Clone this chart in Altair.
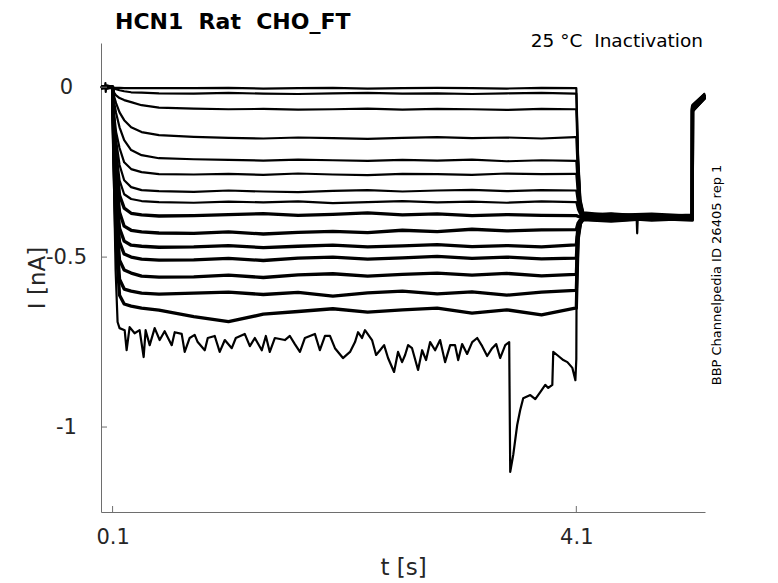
import altair as alt
import pandas as pd

# ---------------- data ----------------
# common time base of the 15 regular sweeps [s]
T_STEP = [0.0, 0.05, 0.1, 0.11, 0.13, 0.16, 0.2, 0.26, 0.35, 0.5,
          0.8, 1.1, 1.4, 1.7, 2.0, 2.3, 2.6, 2.9, 3.2, 3.5, 3.8, 4.09,
          4.1, 4.115, 4.135, 4.16, 4.4, 4.75, 5.1, 5.102, 5.21]

# currents [nA] of the regular sweeps
I1 = [0.002, -0.002, 0.0, -0.001, -0.002, -0.002, -0.003, -0.003, -0.003, -0.003,
      -0.003, -0.002, -0.004, -0.003, -0.002, -0.004, -0.003, -0.002, -0.003, -0.004, -0.002, -0.003,
      -0.003, -0.20, -0.33, -0.368, -0.376, -0.372, -0.378, -0.052, -0.018]
I2 = [-0.001, 0.002, 0.0, -0.003, -0.006, -0.009, -0.012, -0.015, -0.016, -0.018,
      -0.019, -0.017, -0.019, -0.020, -0.018, -0.017, -0.019, -0.018, -0.020, -0.018, -0.017, -0.019,
      -0.019, -0.21, -0.335, -0.372, -0.380, -0.377, -0.381, -0.058, -0.022]
I3 = [0.001, -0.003, 0.0, -0.015, -0.024, -0.032, -0.038, -0.044, -0.053, -0.060,
      -0.063, -0.065, -0.064, -0.066, -0.065, -0.063, -0.066, -0.064, -0.065, -0.067, -0.064, -0.065,
      -0.065, -0.23, -0.34, -0.375, -0.371, -0.379, -0.375, -0.062, -0.025]
I4 = [-0.002, 0.003, 0.0, -0.024, -0.047, -0.074, -0.097, -0.118, -0.132, -0.141,
      -0.146, -0.149, -0.151, -0.148, -0.150, -0.152, -0.149, -0.147, -0.150, -0.148, -0.151, -0.147,
      -0.147, -0.27, -0.35, -0.378, -0.383, -0.376, -0.383, -0.066, -0.028]
I5 = [0.003, -0.001, 0.0, -0.038, -0.076, -0.118, -0.156, -0.185, -0.200, -0.209,
      -0.212, -0.214, -0.216, -0.213, -0.215, -0.217, -0.214, -0.216, -0.213, -0.218, -0.215, -0.217,
      -0.217, -0.30, -0.36, -0.380, -0.374, -0.381, -0.377, -0.055, -0.020]
I6 = [-0.003, 0.001, 0.0, -0.068, -0.132, -0.179, -0.221, -0.241, -0.250, -0.256,
      -0.257, -0.255, -0.258, -0.254, -0.257, -0.259, -0.255, -0.256, -0.258, -0.254, -0.256, -0.255,
      -0.255, -0.32, -0.365, -0.383, -0.385, -0.378, -0.384, -0.060, -0.024]
I7 = [0.002, 0.0, 0.0, -0.082, -0.156, -0.229, -0.274, -0.294, -0.303, -0.306,
      -0.308, -0.304, -0.307, -0.309, -0.305, -0.303, -0.307, -0.304, -0.302, -0.306, -0.303, -0.304,
      -0.304, -0.34, -0.37, -0.381, -0.377, -0.386, -0.379, -0.064, -0.027]
I8 = [0.0, -0.002, 0.0, -0.097, -0.185, -0.274, -0.315, -0.329, -0.335, -0.338,
      -0.340, -0.337, -0.339, -0.336, -0.341, -0.338, -0.335, -0.339, -0.337, -0.340, -0.336, -0.338,
      -0.338, -0.36, -0.375, -0.385, -0.388, -0.380, -0.386, -0.068, -0.030]
I9 = [-0.002, 0.002, 0.0, -0.112, -0.215, -0.318, -0.356, -0.371, -0.376, -0.379,
      -0.378, -0.375, -0.372, -0.377, -0.374, -0.370, -0.376, -0.373, -0.378, -0.375, -0.377, -0.378,
      -0.378, -0.38, -0.382, -0.379, -0.374, -0.383, -0.380, -0.057, -0.021]
I10 = [0.001, -0.001, 0.0, -0.126, -0.259, -0.368, -0.409, -0.421, -0.426, -0.429,
       -0.430, -0.426, -0.432, -0.427, -0.424, -0.428, -0.421, -0.425, -0.418, -0.423, -0.420, -0.419,
       -0.419, -0.40, -0.39, -0.386, -0.390, -0.384, -0.388, -0.062, -0.026]
I11 = [-0.001, 0.003, 0.0, -0.141, -0.303, -0.415, -0.453, -0.465, -0.468, -0.471,
       -0.470, -0.466, -0.472, -0.468, -0.465, -0.470, -0.467, -0.463, -0.469, -0.466, -0.470, -0.464,
       -0.464, -0.41, -0.393, -0.382, -0.379, -0.387, -0.382, -0.066, -0.029]
I12 = [0.002, -0.003, 0.0, -0.156, -0.332, -0.456, -0.491, -0.500, -0.506, -0.509,
       -0.508, -0.504, -0.510, -0.503, -0.500, -0.506, -0.502, -0.498, -0.504, -0.500, -0.505, -0.503,
       -0.503, -0.42, -0.395, -0.388, -0.392, -0.385, -0.389, -0.070, -0.031]
I13 = [-0.003, 0.0, 0.0, -0.171, -0.376, -0.509, -0.538, -0.547, -0.556, -0.559,
       -0.558, -0.553, -0.560, -0.552, -0.549, -0.556, -0.551, -0.547, -0.553, -0.548, -0.555, -0.551,
       -0.551, -0.43, -0.398, -0.384, -0.381, -0.389, -0.384, -0.059, -0.023]
I14 = [0.001, 0.002, 0.0, -0.185, -0.421, -0.565, -0.594, -0.600, -0.606, -0.609,
       -0.606, -0.603, -0.610, -0.604, -0.615, -0.605, -0.600, -0.608, -0.602, -0.612, -0.603, -0.598,
       -0.598, -0.44, -0.40, -0.390, -0.394, -0.386, -0.391, -0.063, -0.027]
I15 = [-0.002, -0.001, 0.0, -0.200, -0.465, -0.612, -0.638, -0.644, -0.650, -0.656,
       -0.675, -0.690, -0.668, -0.660, -0.652, -0.662, -0.655, -0.650, -0.665, -0.655, -0.670, -0.650,
       -0.650, -0.45, -0.402, -0.386, -0.383, -0.391, -0.386, -0.067, -0.030]

# the deepest (noisy) sweep: main readings
T_LOW = [0.0, 0.035, 0.038, 0.041, 0.044, 0.1, 0.109, 0.126, 0.143, 0.160,
         0.204, 0.247, 0.290, 0.333, 0.368, 0.385, 0.463, 0.549, 0.610, 0.636,
         0.696, 0.765, 0.834, 0.895, 0.921, 0.981, 1.068, 1.128, 1.163, 1.240,
         1.327, 1.387, 1.422, 1.500, 1.586, 1.672, 1.759, 1.845, 1.932, 2.018,
         2.087, 2.148, 2.217, 2.277, 2.338, 2.407, 2.476, 2.528, 2.562, 2.623,
         2.683, 2.735, 2.770, 2.839, 2.925, 3.012, 3.081, 3.115, 3.202, 3.288,
         3.374, 3.443, 3.487, 3.521, 3.530, 3.556, 3.590, 3.616, 3.642, 3.703,
         3.789, 3.858, 3.893, 3.901, 3.945, 3.988, 4.023, 4.066, 4.092, 4.1,
         4.104, 4.13, 4.16, 4.4, 4.62, 4.625, 4.63, 4.75, 5.1, 5.102,
         5.21]
I_LOW = [0.002, 0.0, 0.012, -0.014, 0.0, 0.0, -0.229, -0.538, -0.691, -0.709,
         -0.715, -0.706, -0.724, -0.715, -0.794, -0.715, -0.709, -0.718, -0.759, -0.721,
         -0.726, -0.738, -0.750, -0.774, -0.738, -0.732, -0.744, -0.768, -0.738, -0.726,
         -0.738, -0.774, -0.732, -0.738, -0.744, -0.756, -0.738, -0.726, -0.732, -0.768,
         -0.797, -0.779, -0.721, -0.715, -0.744, -0.774, -0.797, -0.838, -0.779, -0.788,
         -0.768, -0.832, -0.774, -0.750, -0.744, -0.759, -0.803, -0.756, -0.750, -0.762,
         -0.768, -0.797, -0.759, -0.750, -1.132, -1.082, -0.994, -0.950, -0.915, -0.906,
         -0.897, -0.885, -0.876, -0.779, -0.791, -0.803, -0.809, -0.826, -0.862, -0.80,
         -0.44, -0.395, -0.383, -0.387, -0.382, -0.43, -0.384, -0.388, -0.384, -0.072,
         -0.032]
# the deepest sweep: extra readings of its downward spikes
T_SPIKE = [0.221, 0.420, 0.506, 0.722, 0.808, 1.024, 1.284, 1.456, 1.629, 1.716,
           1.888, 1.975, 2.191, 2.251, 2.373, 2.442, 2.597, 2.649, 2.804, 2.882,
           2.968, 3.054, 3.158, 3.245, 3.331, 3.409, 3.746, 3.832]
I_SPIKE = [-0.774, -0.759, -0.744, -0.779, -0.729, -0.779, -0.762, -0.779, -0.732, -0.779,
           -0.774, -0.732, -0.750, -0.738, -0.788, -0.759, -0.809, -0.759, -0.803, -0.774,
           -0.809, -0.759, -0.785, -0.738, -0.791, -0.756, -0.918, -0.876]

X_TICKS = [0.1, 4.1]
Y_TICKS = [0.0, -0.5, -1.0]

TITLE = "HCN1\u00a0 Rat\u00a0 CHO_FT"
SUBTITLE = "25 \u00b0C\u00a0 Inactivation"
SIDE_TEXT = "BBP Channelpedia ID 26405 rep 1"

# ---------------- build tables ----------------
SWEEPS = [I1, I2, I3, I4, I5, I6, I7, I8, I9, I10, I11, I12, I13, I14, I15]
rows = []
for k, vals in enumerate(SWEEPS):
    for j, (t, v) in enumerate(zip(T_STEP, vals)):
        rows.append({"sweep": k, "n": j, "t": t, "i": v})
df = pd.DataFrame(rows)
df_low = pd.DataFrame({"t": T_LOW + T_SPIKE, "i": I_LOW + I_SPIKE})
df_low = df_low.sort_values("t", kind="stable").reset_index(drop=True)
df_low["n"] = range(len(df_low))

W, H = 604, 469
FONT = "DejaVu Sans"
AX = "#262626"
DOM = "#6e6e6e"

x_enc = alt.X("t:Q", scale=alt.Scale(domain=[0, 5.21], nice=False, zero=False),
              axis=alt.Axis(values=X_TICKS, labelExpr="toString(datum.value)", title="t [s]",
                            ticks=False, tickSize=0, labelPadding=25, labelBaseline="middle",
                            labelFontSize=21, titleFontSize=23, titleFontWeight="normal",
                            titleX=W / 2, titleY=55, titleBaseline="middle",
                            domainColor=DOM, labelColor=AX, titleColor=AX, grid=False))
y_enc = alt.Y("i:Q", scale=alt.Scale(domain=[-1.25, 0.13], nice=False, zero=False),
              axis=alt.Axis(values=Y_TICKS, labelExpr="toString(datum.value)", title="I [nA]",
                            ticks=False, tickSize=0, labelPadding=35, labelAlign="center",
                            labelBaseline="middle", labelFontSize=21, titleFontSize=23,
                            titleFontWeight="normal", titleX=-64, titleY=H / 2,
                            titleBaseline="middle", titleAlign="center", titleAngle=270,
                            domainColor=DOM, labelColor=AX, titleColor=AX, grid=False))

upper = alt.Chart(df).transform_filter("datum.sweep < 8").mark_line(
    color="black", strokeWidth=2.2, strokeJoin="round").encode(
    x=x_enc, y=y_enc, detail="sweep:N", order="n:Q")
lower = alt.Chart(df).transform_filter("datum.sweep >= 8").mark_line(
    color="black", strokeWidth=3.3, strokeJoin="round").encode(
    x=x_enc, y=y_enc, detail="sweep:N", order="n:Q")
low = alt.Chart(df_low).mark_line(color="black", strokeWidth=2.2, strokeJoin="round").encode(
    x=x_enc, y=y_enc, order="n:Q")

xt = alt.Chart(pd.DataFrame({"t": X_TICKS})).mark_rule(color=DOM, strokeWidth=1).encode(
    x=x_enc, y=alt.value(H), y2=alt.value(H - 6))
yt = alt.Chart(pd.DataFrame({"i": Y_TICKS})).mark_rule(color=DOM, strokeWidth=1).encode(
    y=y_enc, x=alt.value(0), x2=alt.value(6))

one = alt.Data(values=[{"a": 1}])
title = alt.Chart(one).mark_text(align="left", baseline="alphabetic", fontSize=22,
                                 fontWeight="bold", color="black", font=FONT).encode(
    x=alt.value(14), y=alt.value(-14), text=alt.value(TITLE))
sub = alt.Chart(one).mark_text(align="right", baseline="middle", fontSize=18.5,
                               color="black", font=FONT).encode(
    x=alt.value(602), y=alt.value(-2), text=alt.value(SUBTITLE))
side = alt.Chart(one).mark_text(align="center", baseline="middle", fontSize=13,
                                angle=270, color="black", font=FONT).encode(
    x=alt.value(616), y=alt.value(232), text=alt.value(SIDE_TEXT))

chart = alt.layer(upper, lower, low, xt, yt, title, sub, side).properties(
    width=W, height=H,
    autosize=alt.AutoSizeParams(type="none"),
    padding={"left": 93, "top": 35, "right": 65, "bottom": 70},
    background="white",
).configure(font=FONT).configure_view(stroke=None)

chart.save("out.html", embed_options={"renderer": "svg", "actions": False})
